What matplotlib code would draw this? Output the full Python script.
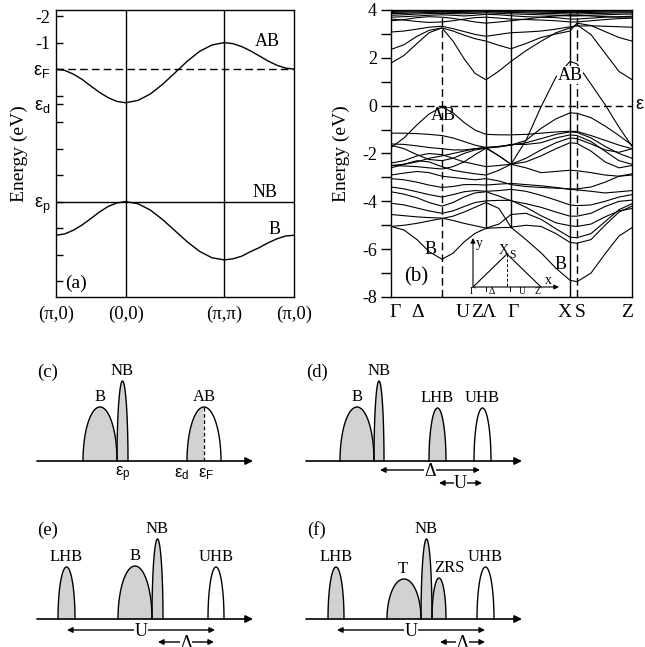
import numpy as np
import matplotlib
matplotlib.use('Agg')
import matplotlib.pyplot as plt
from matplotlib.patches import Polygon

plt.rcParams['font.family'] = ['Liberation Serif', 'DejaVu Serif']
plt.rcParams['mathtext.fontset'] = 'custom'
plt.rcParams['mathtext.rm'] = 'Liberation Sans'
plt.rcParams['mathtext.it'] = 'Liberation Sans:italic'
plt.rcParams['mathtext.bf'] = 'Liberation Sans:bold'
plt.rcParams['axes.unicode_minus'] = False

# ---------------- panel (a): model bands ----------------
a_xticklabels = ['(π,0)', '(0,0)', '(π,π)', '(π,0)']
a_seg_len = [1.0, 1.414, 1.0]
a_frac = [0, .125, .25, .375, .5, .625, .75, .875, 1]
a_AB = [[0.0, -0.05, -0.19, -0.39, -0.64, -0.88, -1.08, -1.22, -1.27],
        [-1.27, -1.18, -0.94, -0.57, -0.14, 0.30, 0.67, 0.91, 1.0],
        [1.0, 0.96, 0.85, 0.69, 0.50, 0.31, 0.15, 0.04, 0.0]]
a_B = [[-6.27, -6.22, -6.08, -5.88, -5.64, -5.39, -5.18, -5.05, -5.0],
       [-5.0, -5.08, -5.32, -5.68, -6.10, -6.52, -6.88, -7.12, -7.2],
       [-7.2, -7.16, -7.06, -6.89, -6.74, -6.56, -6.41, -6.30, -6.27]]
eps_F_a, eps_d_a, eps_p_a = 0.0, -1.3, -5.0
a_ytick_vals = [2, 1, 0, -1, -1.3, -2, -3, -4, -5, -6, -7, -8]
a_ytick_labels = ['-2', '-1', r'$\mathrm{ε_F}$', '', r'$\mathrm{ε_d}$', '', '', '',
                  r'$\mathrm{ε_p}$', '', '', '']

# ---------------- panel (b): LDA-like bands ----------------
kb = [0, 13, 26, 38, 51, 62, 73, 84, 95, 108, 120, 135, 150, 165, 179, 186, 200, 214, 228, 241]
kb_lines_solid = [95, 120]       # Z and Gamma lines (drawn from B band up)
kb_line_X = 179
kb_lines_dashed = [51, 186]
kb_label_pos = [4, 27, 72, 86, 98, 122, 174, 189, 236]
kb_labels = ['Γ', 'Δ', 'U', 'Z', 'Λ', 'Γ', 'X', 'S', 'Z']

top_bands = [
    [3.62, 3.58, 3.52, 3.48, 3.5, 3.55, 3.62, 3.68, 3.7, 3.66, 3.62, 3.6, 3.58, 3.55, 3.5, 3.5, 3.55, 3.6, 3.64, 3.66],
    [3.7, 3.72, 3.75, 3.78, 3.8, 3.78, 3.75, 3.78, 3.82, 3.8, 3.76, 3.72, 3.7, 3.68, 3.62, 3.62, 3.66, 3.7, 3.72, 3.74],
    [3.78, 3.8, 3.83, 3.85, 3.86, 3.85, 3.84, 3.86, 3.88, 3.86, 3.84, 3.82, 3.8, 3.78, 3.75, 3.75, 3.78, 3.8, 3.82, 3.83],
    [3.85, 3.86, 3.88, 3.9, 3.91, 3.9, 3.9, 3.91, 3.92, 3.91, 3.9, 3.88, 3.86, 3.85, 3.83, 3.83, 3.85, 3.86, 3.88, 3.88],
    [3.9, 3.91, 3.92, 3.93, 3.94, 3.94, 3.94, 3.95, 3.95, 3.94, 3.93, 3.92, 3.91, 3.9, 3.89, 3.89, 3.9, 3.91, 3.92, 3.92],
    [3.94, 3.95, 3.96, 3.97, 3.97, 3.97, 3.97, 3.98, 3.98, 3.97, 3.96, 3.96, 3.95, 3.94, 3.93, 3.93, 3.94, 3.95, 3.96, 3.96],
    [3.97, 3.98, 3.99, 3.99, 4.0, 4.0, 3.99, 3.99, 4.0, 3.99, 3.99, 3.98, 3.98, 3.97, 3.96, 3.96, 3.97, 3.98, 3.99, 3.99],
    [3.55, 3.6, 3.68, 3.72, 3.7, 3.65, 3.58, 3.5, 3.45, 3.5, 3.55, 3.62, 3.7, 3.75, 3.78, 3.78, 3.75, 3.72, 3.7, 3.7],
]
upper_bands = [
    [3.08, 3.12, 3.2, 3.28, 3.32, 3.22, 3.1, 2.98, 2.9, 2.98, 3.05, 3.08, 3.12, 3.2, 3.3, 3.33, 3.34, 3.32, 3.3, 3.28],
    [2.35, 2.55, 2.9, 3.15, 3.25, 3.12, 2.95, 2.8, 2.7, 2.52, 2.38, 2.6, 2.85, 3.0, 3.12, 3.45, 3.35, 3.1, 2.85, 2.7],
    [1.78, 2.1, 2.6, 3.05, 3.25, 2.7, 1.97, 1.35, 1.08, 1.45, 1.85, 2.3, 2.69, 3.05, 3.25, 3.38, 2.97, 2.2, 1.43, 1.09],
]
AB_low = [-1.75, -1.35, -0.8, -0.35, -0.05, -0.3, -0.7, -1.02, -1.2, -1.22, -1.22, -1.2, -1.15, -1.1, -1.07, -1.08, -1.25, -1.45, -1.65, -1.8]
AB_big = [-2.5, -2.45, -2.35, -2.2, -2.1, -2.0, -1.9, -1.8, -1.75, -2.1, -2.45, -1.45, -0.05, 1.2, 1.85, 1.75, 0.9, 0.05, -0.9, -1.7]
lower_bands = [
    [-1.15, -1.15, -1.17, -1.2, -1.25, -1.35, -1.5, -1.65, -1.75, -1.72, -1.65, -1.45, -0.95, -0.55, -0.3, -0.32, -0.5, -0.85, -1.25, -1.65],
    [-1.6, -1.62, -1.68, -1.75, -1.8, -1.85, -1.85, -1.8, -1.75, -1.7, -1.65, -1.55, -1.38, -1.2, -1.1, -1.12, -1.35, -1.7, -2.0, -2.2],
    [-1.65, -1.8, -2.05, -2.25, -2.3, -2.2, -2.0, -1.85, -1.78, -1.72, -1.62, -1.62, -1.55, -1.35, -1.22, -1.25, -1.5, -1.9, -2.3, -2.45],
    [-2.4, -2.3, -2.1, -2.0, -2.05, -2.2, -2.35, -2.45, -2.55, -2.5, -2.45, -2.2, -1.85, -1.55, -1.35, -1.38, -1.6, -1.85, -1.95, -1.8],
    [-2.5, -2.52, -2.55, -2.6, -2.65, -2.55, -2.35, -2.05, -1.78, -2.1, -2.45, -2.35, -2.1, -1.8, -1.55, -1.58, -1.9, -2.35, -2.6, -2.5],
    [-2.6, -2.45, -2.3, -2.35, -2.55, -2.7, -2.78, -2.85, -2.9, -2.7, -2.45, -2.6, -2.8, -2.75, -2.7, -2.72, -2.8, -2.9, -2.95, -2.9],
    [-2.9, -2.82, -2.75, -2.8, -2.95, -3.0, -3.05, -3.1, -3.05, -3.15, -3.3, -3.38, -3.42, -3.45, -3.48, -3.48, -3.4, -3.2, -2.95, -2.85],
    [-3.05, -3.1, -3.2, -3.32, -3.42, -3.38, -3.3, -3.3, -3.32, -3.28, -3.25, -3.3, -3.35, -3.42, -3.5, -3.52, -3.58, -3.65, -3.6, -3.55],
    [-3.4, -3.48, -3.6, -3.72, -3.82, -3.72, -3.6, -3.55, -3.58, -3.55, -3.5, -3.58, -3.75, -3.95, -4.15, -4.18, -4.15, -4.0, -3.82, -3.72],
    [-3.6, -3.7, -3.85, -4.05, -4.2, -4.05, -3.82, -3.65, -3.6, -3.78, -3.98, -4.1, -4.25, -4.45, -4.62, -4.62, -4.5, -4.22, -4.0, -3.95],
    [-4.08, -4.15, -4.28, -4.4, -4.5, -4.4, -4.22, -4.05, -3.98, -3.96, -3.96, -4.25, -4.6, -4.9, -5.02, -5.05, -4.95, -4.65, -4.4, -4.3],
    [-4.55, -4.6, -4.65, -4.68, -4.7, -4.8, -4.92, -5.02, -5.12, -4.95, -4.55, -4.5, -4.75, -5.15, -5.5, -5.52, -5.35, -4.85, -4.35, -4.1],
    [-5.05, -5.0, -4.92, -4.82, -4.72, -4.62, -4.45, -4.25, -4.05, -4.3, -5.08, -5.0, -5.05, -5.35, -5.72, -5.75, -5.6, -5.0, -4.45, -4.2],
]
B_band = [-5.05, -5.2, -5.6, -6.1, -6.42, -6.17, -5.7, -5.34, -5.13, -5.1, -5.09, -5.6, -6.15, -6.8, -7.3, -7.36, -7.0, -6.2, -5.45, -5.1]

# ---------------- schematic DOS panels (c)-(f) ----------------
# (name, left, right, height, fill) relative to the panel baseline origin, in pixels
dos_c = [('B', 46, 80, 54, 'gray'), ('NB', 80, 91, 80, 'gray'), ('AB', 150, 184, 54, 'half')]
dos_d = [('B', 34, 68, 54, 'gray'), ('NB', 68, 78, 80, 'gray'),
         ('LHB', 123, 140, 53, 'gray'), ('UHB', 168, 185, 53, 'white')]
dos_e = [('LHB', 21, 38, 52, 'gray'), ('B', 81, 115, 53, 'gray'),
         ('NB', 115, 126, 80, 'gray'), ('UHB', 171, 187, 52, 'white')]
dos_f = [('LHB', 22, 38, 52, 'gray'), ('T', 81, 115, 40, 'gray'), ('NB', 115, 126, 80, 'gray'),
         ('ZRS', 126, 140, 41, 'gray'), ('UHB', 171, 188, 52, 'white')]

W, H = 645, 647
fig = plt.figure(figsize=(W / 100, H / 100), dpi=100)


def px_axes(l, t, r, b):
    return fig.add_axes([l / W, 1 - b / H, (r - l) / W, (b - t) / H])


LW = 1.0
GRAY = '#d2d2d2'

# ---------- panel (a) ----------
axa = px_axes(56, 10, 294, 297)
starts = np.cumsum([0] + a_seg_len)
for band in (a_AB, a_B):
    xs, ys = [], []
    for i in range(3):
        xs += [starts[i] + f * a_seg_len[i] for f in a_frac]
        ys += band[i]
    axa.plot(xs, ys, 'k-', lw=LW)
axa.axhline(eps_p_a, color='k', lw=LW)
axa.axhline(eps_F_a, color='k', lw=LW, ls=(0, (5.5, 3)))
for xv in starts[1:3]:
    axa.axvline(xv, color='k', lw=LW)
axa.set_xlim(0, starts[-1])
axa.set_ylim(-8.6, 2.23)
axa.set_yticks(a_ytick_vals)
axa.set_yticklabels(a_ytick_labels)
axa.tick_params(axis='y', direction='in', length=5, width=1, labelsize=13, pad=4)
axa.set_xticks(starts)
axa.set_xticklabels(a_xticklabels)
axa.tick_params(axis='x', length=0, labelsize=13.5, pad=6)
axa.set_ylabel('Energy (eV)', fontsize=14)
axa.yaxis.set_label_coords(-0.117, 0.5)
for s in axa.spines.values():
    s.set_linewidth(LW)
axa.text(3.03, 1.06, 'AB', fontsize=13, ha='center', va='center')
axa.text(3.0, -4.64, 'NB', fontsize=13, ha='center', va='center')
axa.text(3.14, -6.04, 'B', fontsize=13, ha='center', va='center')
axa.text(0.29, -8.08, '(a)', fontsize=14, ha='center', va='center')

# ---------- panel (b) ----------
axb = px_axes(391, 10, 632, 297)
for band in top_bands + upper_bands + lower_bands + [AB_low, AB_big, B_band]:
    axb.plot(kb, band, 'k-', lw=0.8)
for kv in kb_lines_solid:
    axb.plot([kv, kv], [B_band[kb.index(kv)], 4], 'k-', lw=LW)
axb.axvline(kb_line_X, color='k', lw=LW)
for kv in kb_lines_dashed:
    axb.axvline(kv, color='k', lw=LW, ls=(0, (5.5, 3)))
axb.axhline(0, color='k', lw=LW, ls=(0, (5.5, 3)))
axb.set_xlim(0, 241)
axb.set_ylim(-8, 4)
axb.set_yticks(range(-8, 5, 2))
axb.set_yticks(range(-7, 4, 2), minor=True)
axb.tick_params(axis='y', which='both', direction='out', length=7, width=1, labelsize=13, pad=3)
axb.set_xticks(kb_label_pos)
axb.set_xticklabels(kb_labels)
axb.tick_params(axis='x', length=0, labelsize=14, pad=5)
axb.set_ylabel('Energy (eV)', fontsize=14)
axb.yaxis.set_label_coords(-0.172, 0.5)
for s in axb.spines.values():
    s.set_linewidth(LW)
axb.text(52, -0.43, 'AB', fontsize=13, ha='center', va='center')
axb.text(179, 1.28, 'AB', fontsize=13, ha='center', va='center',
         bbox=dict(fc='white', ec='none', pad=0.2))
axb.text(40, -6.0, 'B', fontsize=13, ha='center', va='center')
axb.text(170, -6.66, 'B', fontsize=13, ha='center', va='center')
axb.text(25, -7.16, '(b)', fontsize=15, ha='center', va='center')

# ---------- overlay in pixel coordinates ----------
ov = fig.add_axes([0, 0, 1, 1])
ov.set_xlim(0, W)
ov.set_ylim(H, 0)
ov.axis('off')
ov.patch.set_visible(False)

ov.text(635, 106, r'$\mathrm{ε_F}$', fontsize=13, ha='left', va='center')

# inset Brillouin-zone sketch in panel (b)
G0, Ytop, Xap, Zc, Xend = (473, 287), (473, 238), (507, 254), (541, 287), (559, 287)
ov.annotate('', xy=Ytop, xytext=G0, arrowprops=dict(arrowstyle='-|>', lw=0.8, color='k',
                                                     mutation_scale=7, shrinkA=0, shrinkB=0))
ov.annotate('', xy=Xend, xytext=G0, arrowprops=dict(arrowstyle='-|>', lw=0.8, color='k',
                                                    mutation_scale=7, shrinkA=0, shrinkB=0))
ov.plot([G0[0], Xap[0], Zc[0]], [G0[1], Xap[1], Zc[1]], 'k-', lw=0.8)
ov.plot([Xap[0], Xap[0]], [Xap[1], G0[1]], 'k-', lw=0.7, ls=(0, (3, 2)))
for xt in (486, 510):
    ov.plot([xt, xt], [G0[1], G0[1] + 4], 'k-', lw=0.7)
ov.text(479, 244, 'y', fontsize=10, ha='center', va='center')
ov.text(548, 281, 'x', fontsize=10, ha='center', va='center')
ov.text(504, 250, 'X', fontsize=10, ha='center', va='center')
ov.text(512, 255, 'S', fontsize=8.5, ha='center', va='center')
for lab, xl in (('Γ', 473), ('Δ', 492), ('U', 522), ('Z', 538)):
    ov.text(xl, 291.5, lab, fontsize=7, ha='center', va='center')

# schematic panels


def draw_dos(x0, y0, peaks, tag, extra_label_dx=None):
    ov.annotate('', xy=(x0 + 216, y0), xytext=(x0, y0),
                arrowprops=dict(arrowstyle='-|>', lw=1.2, color='k', mutation_scale=11,
                                shrinkA=0, shrinkB=0))
    t = np.linspace(0, np.pi, 80)
    for name, l, r, h, fill in peaks:
        c, w = x0 + (l + r) / 2, (r - l) / 2
        xs = c - w * np.cos(t)
        ys = y0 - h * np.sin(t)
        if fill == 'half':
            half = t <= np.pi / 2
            ov.add_patch(Polygon(np.c_[np.r_[xs[half], c], np.r_[ys[half], y0]],
                                 closed=True, fc=GRAY, ec='none'))
            ov.plot([c, c], [y0, y0 - h], 'k-', lw=0.9, ls=(0, (3, 2)))
        else:
            ov.add_patch(Polygon(np.c_[xs, ys], closed=True,
                                 fc=GRAY if fill == 'gray' else 'white', ec='none'))
        ov.plot(xs, ys, 'k-', lw=1.0)
        dx = 0
        if extra_label_dx and name in extra_label_dx:
            dx = extra_label_dx[name]
        ov.text(c + dx, y0 - h - 10, name, fontsize=12, ha='center', va='center')
    ov.text(x0 + 11, y0 - 89, tag, fontsize=13.5, ha='center', va='center')


def gap_arrow(x1, x2, y, label):
    ov.annotate('', xy=(x2, y), xytext=(x1, y),
                arrowprops=dict(arrowstyle='<|-|>', lw=1.0, color='k', mutation_scale=8,
                                shrinkA=0, shrinkB=0))
    ov.text((x1 + x2) / 2, y + 1, label, fontsize=13, ha='center', va='center',
            bbox=dict(fc='white', ec='none', pad=0.3))


draw_dos(37, 461, dos_c, '(c)')
for lab, xl in ((r'$\mathrm{ε_p}$', 123), (r'$\mathrm{ε_d}$', 182), (r'$\mathrm{ε_F}$', 206)):
    ov.text(xl, 474, lab, fontsize=12, ha='center', va='center')
draw_dos(306, 461, dos_d, '(d)')
gap_arrow(380, 480, 470, 'Δ')
gap_arrow(439, 482, 483, 'U')
draw_dos(37, 619, dos_e, '(e)')
gap_arrow(67, 215, 630, 'U')
gap_arrow(158, 214, 642, 'Δ')
draw_dos(306, 619, dos_f, '(f)', extra_label_dx={'ZRS': 10, 'T': -1})
gap_arrow(337, 485, 630, 'U')
gap_arrow(440, 485, 642, 'Δ')

fig.savefig('out.png', dpi=100)
